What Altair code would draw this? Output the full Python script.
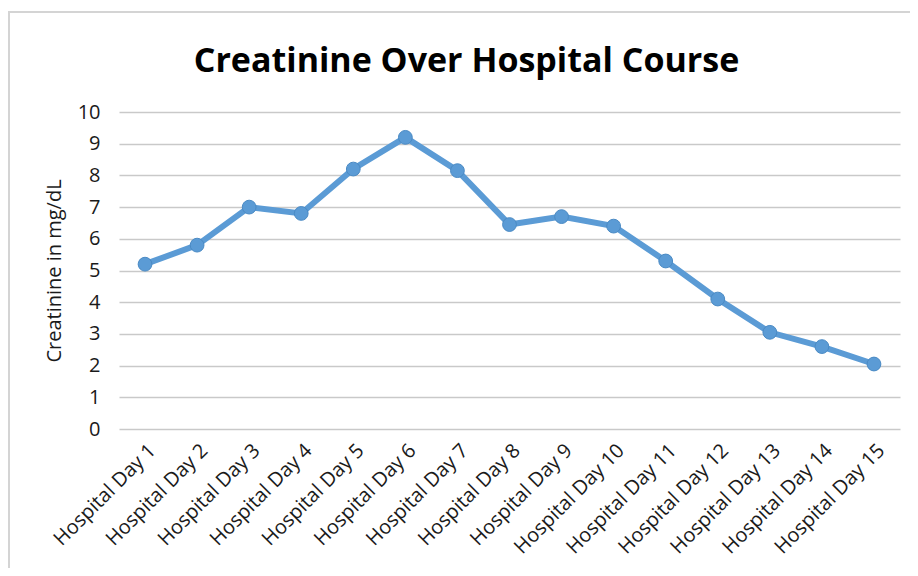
import altair as alt
import pandas as pd

days = ["Hospital Day 1", "Hospital Day 2", "Hospital Day 3", "Hospital Day 4",
        "Hospital Day 5", "Hospital Day 6", "Hospital Day 7", "Hospital Day 8",
        "Hospital Day 9", "Hospital Day 10", "Hospital Day 11", "Hospital Day 12",
        "Hospital Day 13", "Hospital Day 14", "Hospital Day 15"]
creatinine = [5.2, 5.8, 7.0, 6.8, 8.2, 9.2, 8.15, 6.45, 6.7, 6.4, 5.3, 4.1, 3.05, 2.6, 2.05]

df = pd.DataFrame({"day": days, "value": creatinine})

FONT = "Open Sans"
BLUE = "#5b9bd5"

border = alt.Chart(pd.DataFrame({"a": [0]})).mark_rect(
    fill="white", fillOpacity=0, stroke="#d4d4d4", strokeWidth=2
).encode(
    x=alt.value(-110), x2=alt.value(900), y=alt.value(-100), y2=alt.value(600)
)

base = alt.Chart(df).encode(
    x=alt.X("day:N", sort=days, title=None,
            axis=alt.Axis(labelAngle=-45, labelFont=FONT, labelFontSize=20,
                          labelColor="#1a1a1a", labelPadding=11, ticks=False,
                          domain=False, grid=False)),
    y=alt.Y("value:Q", title="Creatinine in mg/dL",
            scale=alt.Scale(domain=[0, 10], nice=False),
            axis=alt.Axis(values=list(range(0, 11)), labelFont=FONT, labelFontSize=20,
                          labelColor="#1a1a1a", labelPadding=19, ticks=False,
                          domain=False, gridColor="#c9c9c9", gridWidth=1.5,
                          titleFont=FONT, titleFontSize=20, titleFontWeight="normal",
                          titleColor="#1a1a1a", titlePadding=13)),
)

line = base.mark_line(color=BLUE, strokeWidth=6)
pts = base.mark_point(filled=True, color=BLUE, size=190, opacity=1,
                      stroke="#4a8ac4", strokeWidth=1)

chart = alt.layer(border, line, pts).properties(
    width=781, height=317,
    title=alt.TitleParams("Creatinine Over Hospital Course", font=FONT, fontSize=34,
                          fontWeight="bold", color="black", anchor="middle",
                          dx=-43, offset=-68),
    autosize=alt.AutoSizeParams(type="none"),
    padding={"left": 111, "top": 104, "right": 10, "bottom": 139},
).configure_view(stroke=None)

chart.save("out.html", embed_options={"renderer": "svg", "actions": False})
